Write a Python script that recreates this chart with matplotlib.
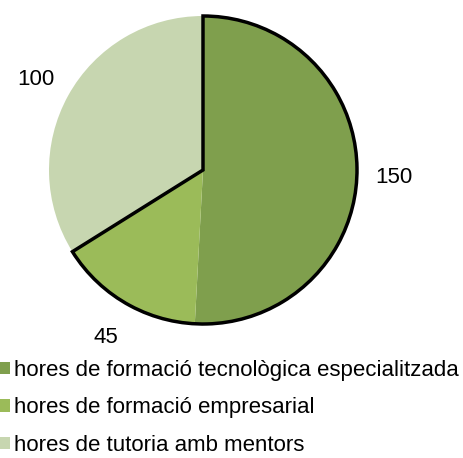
import matplotlib
matplotlib.use('agg')
import matplotlib.pyplot as plt
from matplotlib.patches import Wedge, Patch

plt.rcParams['font.family'] = ['Liberation Sans', 'DejaVu Sans']

labels = ['hores de formació tecnològica especialitzada',
          'hores de formació empresarial',
          'hores de tutoria amb mentors']
values = [150, 45, 100]
colors = ['#7f9f4d', '#9bbb59', '#c7d6b0']

W, H = 464, 458
fig = plt.figure(figsize=(W / 100, H / 100), dpi=100)
cx, cy, r = 203, 170, 154
ax = fig.add_axes([(cx - r) / W, (H - cy - r) / H, 2 * r / W, 2 * r / H])

wedges, texts = ax.pie(values, colors=colors, startangle=90, counterclock=False,
                       labels=[str(v) for v in values], labeldistance=1.24,
                       radius=1, textprops={'fontsize': 16})
for t in texts:
    t.set_ha('center')
    t.set_va('center_baseline')
ax.set_xlim(-1, 1)
ax.set_ylim(-1, 1)
ax.set_aspect('equal')
ax.axis('off')

# outline around the first two slices
total = sum(values)
a_end = 90
a_start = 90 - 360 * (values[0] + values[1]) / total
ax.add_patch(Wedge((0, 0), 1, a_start, a_end, fill=False, edgecolor='black',
                   linewidth=2.5, joinstyle='miter', clip_on=False))

handles = [Patch(facecolor=c, edgecolor='none') for c in colors]
fig.legend(handles, labels, loc='upper left', bbox_to_anchor=(-0.003, 1 - 360 / H),
           frameon=False, fontsize=16, handlelength=0.5, handleheight=0.5,
           handletextpad=0.18, labelspacing=0.74, borderaxespad=0, borderpad=0)

fig.savefig('out.png', dpi=100)
